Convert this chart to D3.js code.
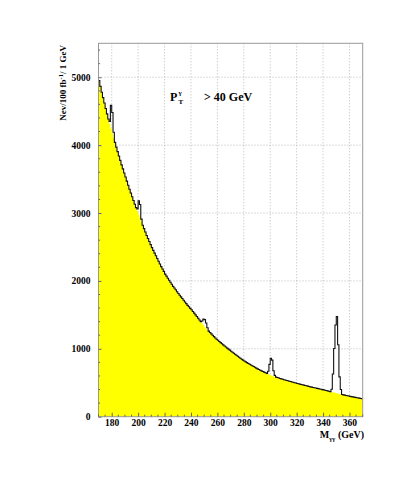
<!DOCTYPE html>
<html><head><meta charset="utf-8">
<script src="https://cdn.jsdelivr.net/npm/d3@7"></script>
<style>body{margin:0;background:#fff}svg{display:block}text{font-family:"Liberation Serif","Times New Roman",serif;font-weight:bold;fill:#000}</style>
</head><body><svg id="c" width="415" height="485"></svg>
<script>
// 1 GeV bins from 170 to 370 GeV (lower edges)
const binStart = 170, binEnd = 370;
// estimated background (yellow) per 1 GeV bin, 170..369
const background = [
4950,4865,4780,4700,4620,4540,4460,4385,4310,4245,
4180,4110,4040,3970,3905,3840,3775,3710,3650,3590,
3530,3470,3410,3350,3295,3240,3185,3130,3080,3030,
2980,2925,2870,2820,2770,2720,2670,2625,2580,2535,
2490,2450,2410,2370,2330,2290,2250,2210,2175,2140,
2100,2070,2040,2010,1980,1950,1920,1895,1870,1840,
1815,1790,1765,1740,1715,1690,1665,1640,1620,1595,
1575,1550,1525,1500,1475,1450,1425,1400,1380,1350,
1320,1300,1280,1260,1240,1220,1200,1180,1160,1140,
1125,1108,1091,1075,1058,1042,1026,1010,995,980,
965,950,935,920,905,890,875,860,847,833,
820,808,796,784,772,761,750,739,728,716,
705,695,685,675,665,656,647,638,629,620,
610,603,596,589,583,577,570,563,557,551,
545,540,534,529,523,518,512,507,501,496,
490,485,480,475,470,465,460,455,450,445,
440,435,431,426,422,417,413,408,404,399,
395,390,385,380,375,370,365,360,355,350,
345,340,336,331,327,322,318,313,309,304,
300,296,292,288,284,280,277,273,269,265];
// signal excess on top of background (bin lower edge -> events)
const signalBins   = [178,179,180,181, 199,200,201,202, 248,249,250,251,252, 298,299,300,301,302,303, 346,347,348,349,350,351,352,353];
const signalValues = [ 40,340,300, 80,  30,200,200, 40,  30, 90,110, 80, 30,  40,150,250,230, 80, 20,  40,270,650,1000,1130,720,250,70];
const xTicks = [180,200,220,240,260,280,300,320,340,360];
const yTicks = [0,1000,2000,3000,4000,5000];
const yMax = 5500;

const svg = d3.select("#c");
const L = 98.5, R = 362.7, T = 43.3, B = 416.7;
const x = d3.scaleLinear().domain([binStart, binEnd]).range([L, R]);
const y = d3.scaleLinear().domain([0, yMax]).range([B, T]);

const sig = new Map(signalBins.map((b,i)=>[b, signalValues[i]]));
const bins = background.map((v,i)=>({lo: binStart+i, bg: v, tot: v + (sig.get(binStart+i)||0)}));
const pts = bins.concat([{lo: binEnd, bg: bins[bins.length-1].bg, tot: bins[bins.length-1].tot}]);

// grid
const grid = svg.append("g").attr("stroke","#aaa").attr("stroke-width",0.8).attr("stroke-dasharray","1,2");
grid.selectAll("line.v").data(xTicks).join("line").attr("x1",d=>x(d)).attr("x2",d=>x(d)).attr("y1",T).attr("y2",B);
grid.selectAll("line.h").data(yTicks.filter(d=>d>0)).join("line").attr("x1",L).attr("x2",R).attr("y1",d=>y(d)).attr("y2",d=>y(d));

// yellow background
svg.append("path").datum(pts)
  .attr("d", d3.area().curve(d3.curveStepAfter).x(d=>x(d.lo)).y0(B).y1(d=>y(d.bg)))
  .attr("fill","#ffff00");
// total outline
svg.append("path").datum(pts)
  .attr("d", d3.line().curve(d3.curveStepAfter).x(d=>x(d.lo)).y(d=>y(d.tot)))
  .attr("fill","none").attr("stroke","#111").attr("stroke-width",1.1);

// frame
svg.append("rect").attr("x",L).attr("y",T).attr("width",R-L).attr("height",B-T)
  .attr("fill","none").attr("stroke","#999").attr("stroke-width",1);

// axes ticks
const yAxis = d3.axisLeft(y).tickValues(yTicks).tickSize(-3).tickFormat(d3.format("d")).tickPadding(8);
const gy = svg.append("g").attr("transform",`translate(${L},0)`).call(yAxis);
gy.select(".domain").remove();
gy.selectAll("line").attr("stroke","#666");
gy.selectAll("text").attr("font-size",9.5).style("font-family",'"Liberation Serif",serif').style("font-weight","bold");
const yMinor = d3.range(0, yMax+1, 200).filter(v=>v%1000!==0);
svg.append("g").selectAll("line").data(yMinor).join("line")
  .attr("x1",L).attr("x2",L+1.6).attr("y1",d=>y(d)).attr("y2",d=>y(d)).attr("stroke","#666");

const xAxis = d3.axisBottom(x).tickValues(xTicks).tickSize(-4).tickFormat(d3.format("d")).tickPadding(3);
const gx = svg.append("g").attr("transform",`translate(0,${B})`).call(xAxis);
gx.select(".domain").remove();
gx.selectAll("line").attr("stroke","#666");
gx.selectAll("text").attr("font-size",9.5).style("font-family",'"Liberation Serif",serif').style("font-weight","bold");
const xMinor = d3.range(170, 371, 5).filter(v=>v%20!==0);
svg.append("g").selectAll("line").data(xMinor).join("line")
  .attr("x1",d=>x(d)).attr("x2",d=>x(d)).attr("y1",B).attr("y2",B-2).attr("stroke","#666");

// y title
const yt = svg.append("text").attr("transform","translate(66,45) rotate(-90)")
  .attr("text-anchor","end").attr("font-size",9);
yt.append("tspan").text("Nev/100 fb");
yt.append("tspan").attr("dy",-3.5).attr("font-size",6.5).text("-1");
yt.append("tspan").attr("dy",3.5).text("/ 1 GeV");

// x title
const xt = svg.append("text").attr("x",364).attr("y",438).attr("text-anchor","end").attr("font-size",10);
xt.append("tspan").text("M");
xt.append("tspan").attr("dy",2.5).attr("font-size",6.5).text("γγ");
xt.append("tspan").attr("dy",-2.5).text("  (GeV)");

// label
const lab = svg.append("g");
lab.append("text").attr("x",170).attr("y",101).attr("font-size",12).text("P");
lab.append("text").attr("x",178.5).attr("y",95).attr("font-size",7).text("γ");
lab.append("text").attr("x",178.5).attr("y",104).attr("font-size",7).text("T");
lab.append("text").attr("x",204).attr("y",101).attr("font-size",12).text("> 40 GeV");
</script></body></html>
